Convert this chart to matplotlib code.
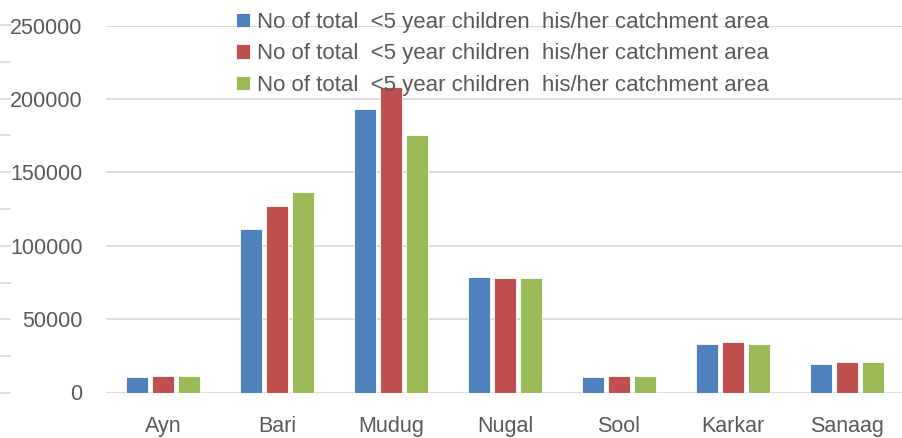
import matplotlib.pyplot as plt
import numpy as np

plt.rcParams['font.family'] = ['Liberation Sans', 'DejaVu Sans']

regions = ['Ayn', 'Bari', 'Mudug', 'Nugal', 'Sool', 'Karkar', 'Sanaag']
series_labels = ['No of total  <5 year children  his/her catchment area'] * 3
series_a = [10350, 111100, 193100, 78500, 10350, 32800, 19600]
series_b = [11030, 127200, 208000, 78300, 11240, 34400, 20800]
series_c = [11440, 136500, 175800, 78300, 11240, 33200, 20800]
colors = ['#4f81bd', '#c0504d', '#9bbb59']
yticks = [0, 50000, 100000, 150000, 200000, 250000]

W, H = 902, 438
fig = plt.figure(figsize=(W / 100, H / 100), dpi=100)
ax = fig.add_axes([106 / W, (H - 392.5) / H, 798 / W, (392.5 - 25.7) / H])

x = np.arange(len(regions))
step = 0.228
width = 0.185
for k, (vals, col, lab) in enumerate(zip([series_a, series_b, series_c], colors, series_labels)):
    ax.bar(x + (k - 1) * step, vals, width, color=col, label=lab, zorder=3,
           edgecolor='white', linewidth=0.6)

ax.set_xlim(-0.5, len(regions) - 0.5)
ax.set_ylim(0, 250000)
ax.set_yticks(yticks)
ax.set_yticklabels([str(v) for v in yticks])
ax.set_xticks(x)
ax.set_xticklabels(regions)
ax.yaxis.grid(True, color='#d9d9d9', linewidth=1.3, zorder=0)
ax.set_axisbelow(True)
for s in ax.spines.values():
    s.set_visible(False)
ax.tick_params(axis='both', length=0, labelsize=15.5, colors='#595959')
ax.tick_params(axis='y', pad=17)
ax.tick_params(axis='x', pad=17)

# stray tick marks along the left edge
ax2 = fig.add_axes([0, (H - 393) / H, 0.001, (393 - 25) / H])
ax2.set_ylim(0, 10)
ax2.set_yticks(np.arange(0, 11))
ax2.set_xticks([])
ax2.tick_params(axis='y', direction='in', length=8, width=1.2, color='#d9d9d9', labelleft=False)
for s in ax2.spines.values():
    s.set_visible(False)
ax2.patch.set_alpha(0)

leg = ax.legend(loc='upper left', bbox_to_anchor=(236 / W, 1 - 12 / H), bbox_transform=fig.transFigure,
                frameon=False, fontsize=16, handlelength=0.63, handleheight=0.63,
                handletextpad=0.3, labelspacing=0.47, borderpad=0, borderaxespad=0)
for t in leg.get_texts():
    t.set_color('#595959')

fig.savefig('out.png', dpi=100)
